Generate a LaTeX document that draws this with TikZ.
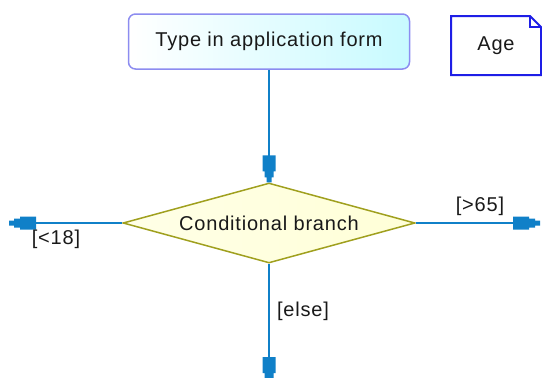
\documentclass[tikz,border=0pt]{standalone}
\usepackage{fontspec}
\setmainfont{Liberation Sans}[LetterSpace=4]
\usetikzlibrary{shapes.geometric,arrows.meta}
\definecolor{flow}{RGB}{16,128,200}
\definecolor{actborder}{RGB}{140,140,240}
\definecolor{actfill}{RGB}{200,250,255}
\definecolor{decborder}{RGB}{160,160,30}
\definecolor{decfill}{RGB}{255,255,215}
\definecolor{orgborder}{RGB}{30,30,230}
\definecolor{txt}{RGB}{25,25,25}
\pgfdeclarearrow{
  name=StepTip,
  parameters={},
  setup code={
    \pgfarrowssettipend{0pt}
    \pgfarrowssetlineend{-18pt}
    \pgfarrowssetbackend{-27pt}
    \pgfarrowsupperhullpoint{-27pt}{6.5pt}
    \pgfarrowsupperhullpoint{0pt}{2.5pt}
  },
  drawing code={
    \pgfpathmoveto{\pgfpoint{0pt}{2.5pt}}
    \pgfpathlineto{\pgfpoint{-5pt}{2.5pt}}
    \pgfpathlineto{\pgfpoint{-5pt}{4.5pt}}
    \pgfpathlineto{\pgfpoint{-11pt}{4.5pt}}
    \pgfpathlineto{\pgfpoint{-11pt}{6.5pt}}
    \pgfpathlineto{\pgfpoint{-27pt}{6.5pt}}
    \pgfpathlineto{\pgfpoint{-27pt}{-6.5pt}}
    \pgfpathlineto{\pgfpoint{-11pt}{-6.5pt}}
    \pgfpathlineto{\pgfpoint{-11pt}{-4.5pt}}
    \pgfpathlineto{\pgfpoint{-5pt}{-4.5pt}}
    \pgfpathlineto{\pgfpoint{-5pt}{-2.5pt}}
    \pgfpathlineto{\pgfpoint{0pt}{-2.5pt}}
    \pgfpathclose
    \pgfusepathqfill
  }
}
\tikzset{
  flowline/.style={draw=flow,line width=2pt,-StepTip},
  lbl/.style={font=\fontsize{20}{22}\selectfont,text=txt,inner sep=0pt},
  actbox/.style={draw=actborder,line width=1.5pt,rounded corners=7pt,left color=white,right color=actfill,
    minimum width=281pt,minimum height=55pt,inner sep=0pt,font=\fontsize{20}{22}\selectfont,text=txt},
  decbox/.style={diamond,shape aspect=3.65,draw=decborder,line width=1.5pt,left color=decfill!60!white,right color=decfill,
    minimum width=292pt,minimum height=80pt,inner sep=0pt,font=\fontsize{20}{22}\selectfont,text=txt},
}
\begin{document}
\begin{tikzpicture}[x=1pt,y=-1pt]
\useasboundingbox (0,0) rectangle (542,378);
\node[actbox] (act) at (269,41.5) {Type in application form};
\node[decbox] (dec) at (269,223) {Conditional branch};
% Age organization-unit box with dog-ear
\draw[orgborder,line width=2pt,fill=white] (451,16) -- (530,16) -- (541,27) -- (541,75) -- (451,75) -- cycle;
\draw[orgborder,line width=1.2pt] (530,16) -- (530,27) -- (541,27);
\node[lbl] (age) at (496,46) {Age};
\coordinate (L) at (9,223);
\coordinate (R) at (540,223);
\coordinate (B) at (269,384);
\draw[flowline] (act.south) -- (dec.north);
\draw[flowline] (dec.west) -- (L);
\draw[flowline] (dec.east) -- (R);
\draw[flowline] (dec.south) -- (B);
\node[lbl] (lt) at (56,239) {[<18]};
\node[lbl] (gt) at (480,206) {[>65]};
\node[lbl] (el) at (303,311) {[else]};
\end{tikzpicture}
\end{document}
